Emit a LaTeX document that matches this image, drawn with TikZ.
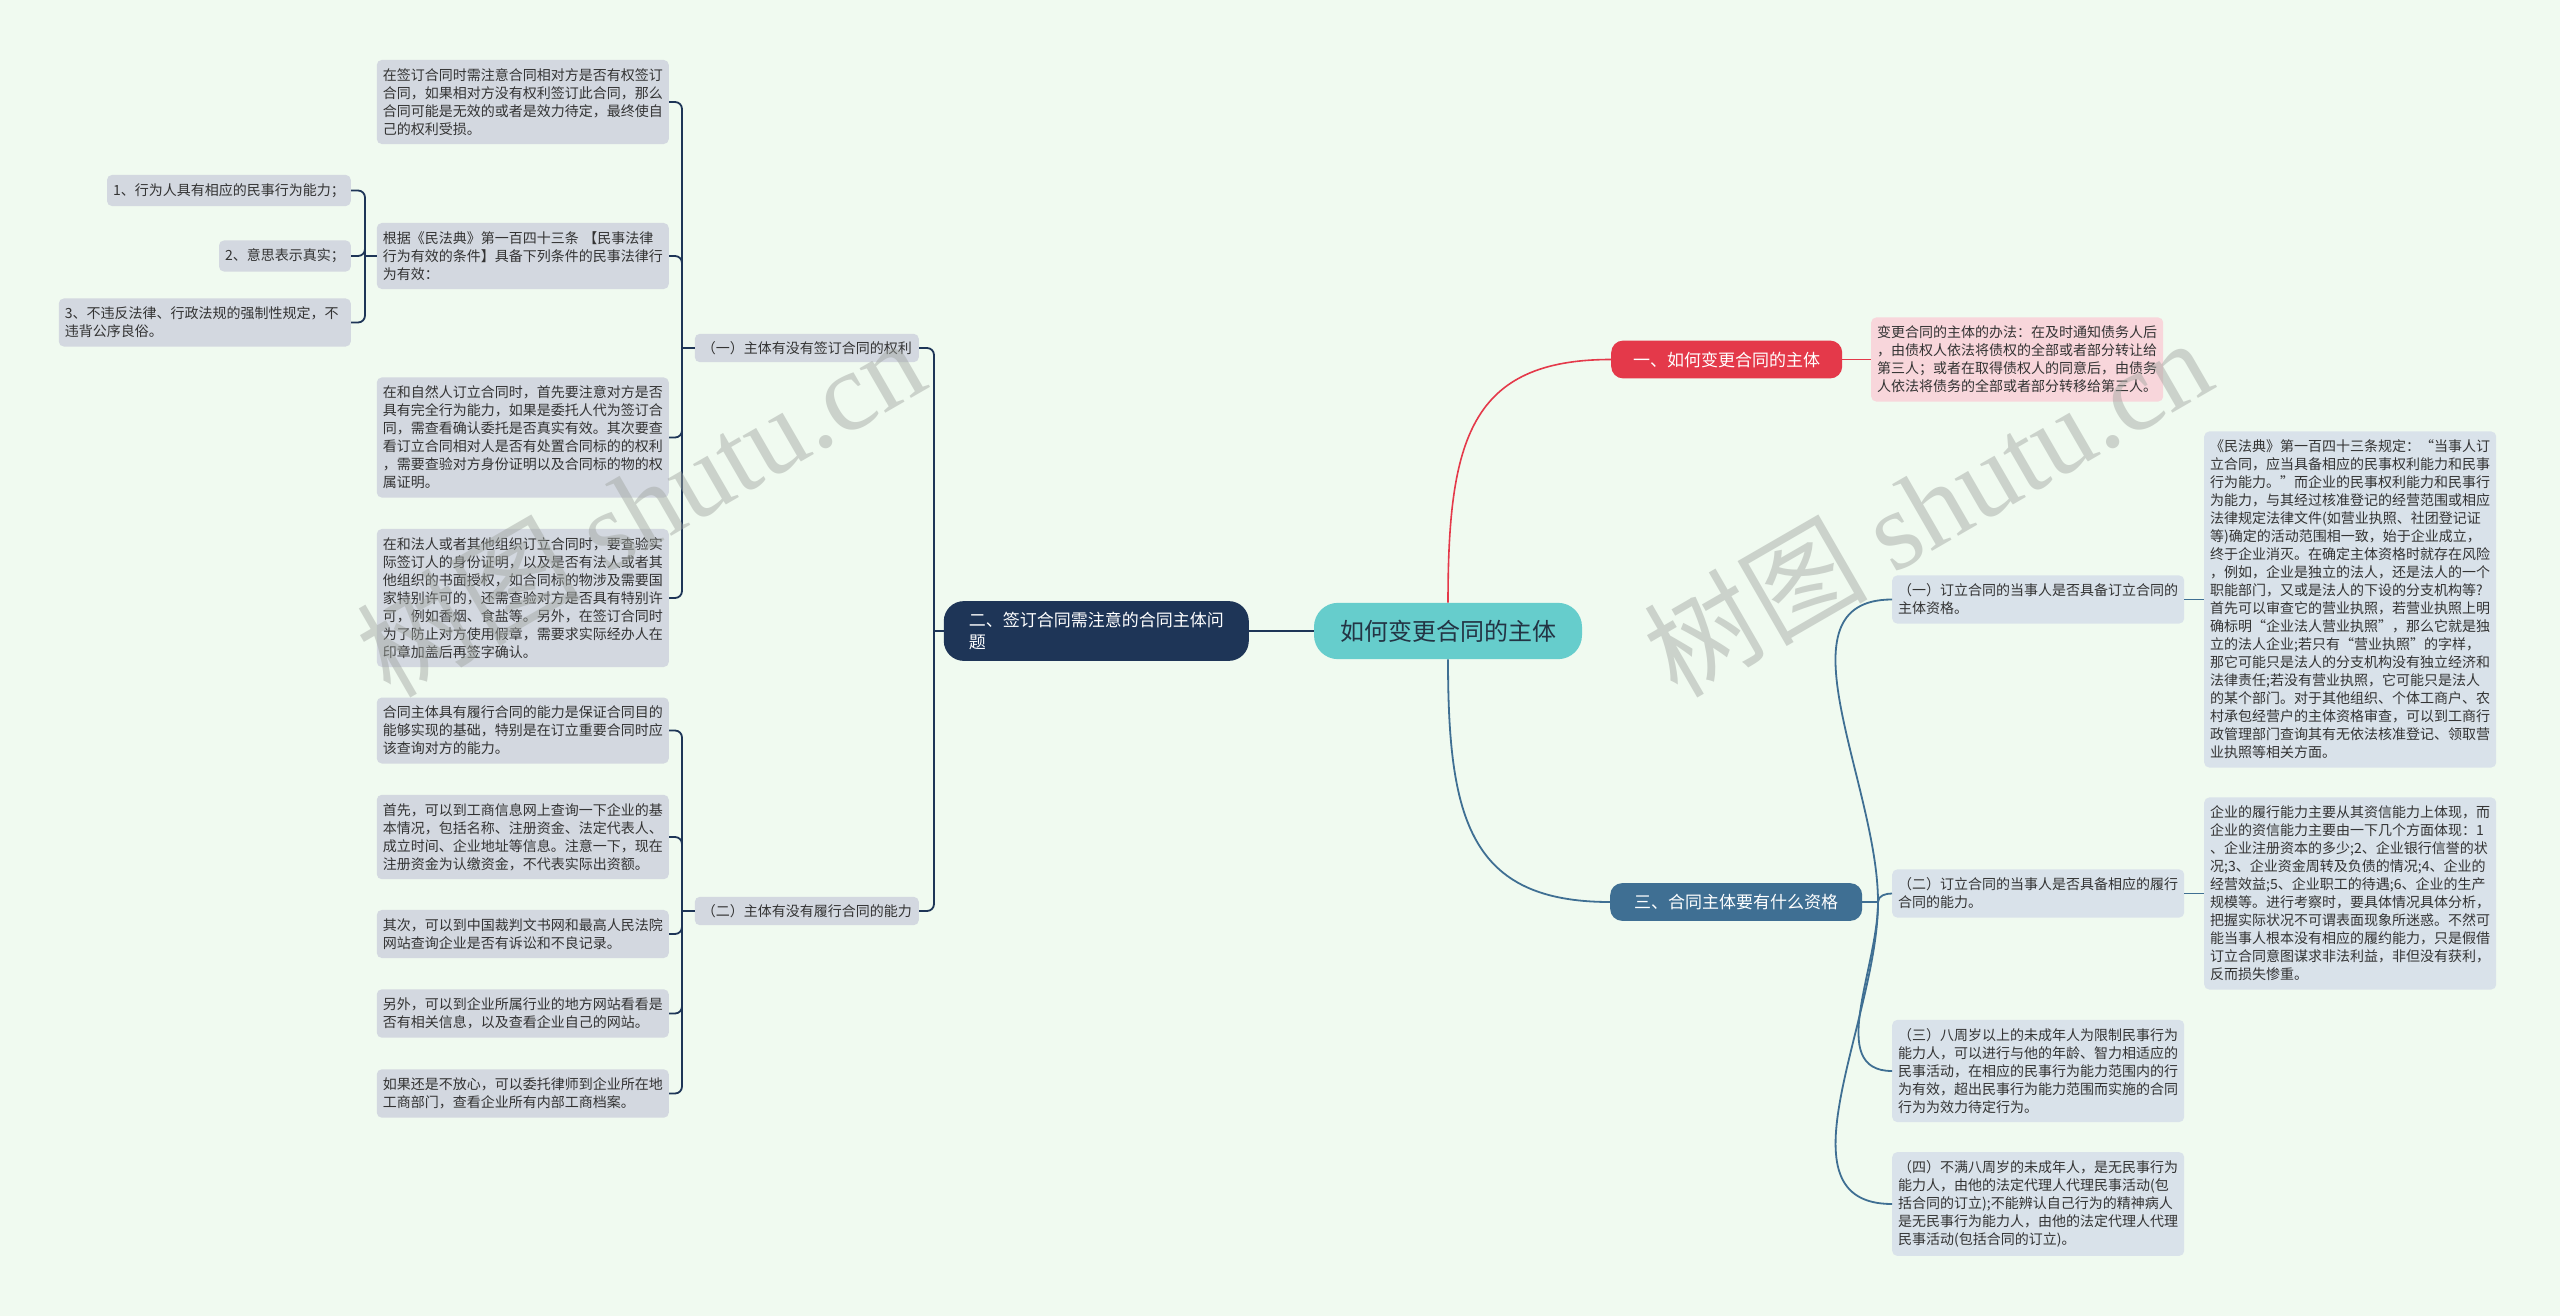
\documentclass[tikz,border=0pt]{standalone}
\usepackage{fontspec}
\setmainfont{Noto Sans CJK SC}
\newfontfamily\wmfont{Liberation Serif}
\definecolor{bg}{HTML}{F0FAF0}
\definecolor{navy}{HTML}{1E3557}
\definecolor{tealc}{HTML}{66CDCC}
\definecolor{crim}{HTML}{E4394A}
\definecolor{steel}{HTML}{3F6F93}
\definecolor{lgray}{HTML}{D3D8E0}
\definecolor{lblue}{HTML}{D9E2EA}
\definecolor{lpink}{HTML}{F8D6DB}
\definecolor{txt}{HTML}{333333}
\definecolor{ctxt}{HTML}{233444}
\definecolor{wm}{HTML}{9EA39E}
\tikzset{
  leaf/.style={rectangle, rounded corners=5pt, fill=lgray, text=txt, inner xsep=6pt, inner ysep=8.5pt, align=left, font=\fontsize{14}{18}\selectfont},
  wleaf/.style={leaf, text width=280pt},
  rleaf/.style={wleaf, fill=lblue},
  pleaf/.style={wleaf, fill=lpink},
  sub/.style={leaf, inner xsep=7pt, inner ysep=7.5pt},
  branch/.style={rectangle, rounded corners=12pt, text=white, inner ysep=11pt, font=\fontsize{17}{22}\selectfont},
  nline/.style={draw=navy, line width=1.8pt, rounded corners=7pt},
  bline/.style={draw=steel, line width=1.8pt},
  rline/.style={draw=crim, line width=1.6pt},
  wmark/.style={text=wm, opacity=0.45, rotate=30, font=\fontsize{112}{112}\selectfont}
}
\begin{document}
\begin{tikzpicture}[x=1pt,y=-1pt]
\fill[bg] (0,0) rectangle (2560,1316);
\useasboundingbox (0,0) rectangle (2560,1316);

% center and main branches
\node[rectangle, rounded corners=24pt, fill=tealc, text=ctxt, inner xsep=26pt, inner ysep=17pt, font=\fontsize{24}{28}\selectfont] (C) at (1448,631) {如何变更合同的主体};
\node[branch, fill=navy, anchor=east, align=left, text width=255pt, inner xsep=25pt, rounded corners=20pt] (M2) at (1249,631) {二、签订合同需注意的合同主体问\\题};
\node[branch, fill=crim, anchor=west, inner xsep=22pt] (M1) at (1611,359.5) {一、如何变更合同的主体};
\node[branch, fill=steel, anchor=west, inner xsep=24pt] (M3) at (1610,902) {三、合同主体要有什么资格};

% left sub-branches
\node[sub, anchor=east] (S1) at (919,348) {（一）主体有没有签订合同的权利};
\node[sub, anchor=east] (S2) at (919,911) {（二）主体有没有履行合同的能力};

% left leaves
\node[wleaf, anchor=east] (L1) at (669,102) {在签订合同时需注意合同相对方是否有权签订\\合同，如果相对方没有权利签订此合同，那么\\合同可能是无效的或者是效力待定，最终使自\\己的权利受损。};
\node[wleaf, anchor=east] (L2) at (669,256) {根据《民法典》第一百四十三条 【民事法律\\行为有效的条件】具备下列条件的民事法律行\\为有效：};
\node[wleaf, anchor=east] (L3) at (669,437.5) {在和自然人订立合同时，首先要注意对方是否\\具有完全行为能力，如果是委托人代为签订合\\同，需查看确认委托是否真实有效。其次要查\\看订立合同相对人是否有处置合同标的的权利\\，需要查验对方身份证明以及合同标的物的权\\属证明。};
\node[wleaf, anchor=east] (L4) at (669,598) {在和法人或者其他组织订立合同时，要查验实\\际签订人的身份证明，以及是否有法人或者其\\他组织的书面授权，如合同标的物涉及需要国\\家特别许可的，还需查验对方是否具有特别许\\可，例如香烟、食盐等。另外，在签订合同时\\为了防止对方使用假章，需要求实际经办人在\\印章加盖后再签字确认。};
\node[wleaf, anchor=east] (L5) at (669,730.5) {合同主体具有履行合同的能力是保证合同目的\\能够实现的基础，特别是在订立重要合同时应\\该查询对方的能力。};
\node[wleaf, anchor=east] (L6) at (669,837) {首先，可以到工商信息网上查询一下企业的基\\本情况，包括名称、注册资金、法定代表人、\\成立时间、企业地址等信息。注意一下，现在\\注册资金为认缴资金，不代表实际出资额。};
\node[wleaf, anchor=east] (L7) at (669,934) {其次，可以到中国裁判文书网和最高人民法院\\网站查询企业是否有诉讼和不良记录。};
\node[wleaf, anchor=east] (L8) at (669,1013.5) {另外，可以到企业所属行业的地方网站看看是\\否有相关信息，以及查看企业自己的网站。};
\node[wleaf, anchor=east] (L9) at (669,1093.5) {如果还是不放心，可以委托律师到企业所在地\\工商部门，查看企业所有内部工商档案。};

% far left
\node[leaf, anchor=east] (F1) at (351,190.5) {1、行为人具有相应的民事行为能力；};
\node[leaf, anchor=east] (F2) at (351,256) {2、意思表示真实；};
\node[wleaf, anchor=east] (F3) at (351,322.5) {3、不违反法律、行政法规的强制性规定，不\\违背公序良俗。};

% right
\node[pleaf, anchor=west] (P1) at (1871,359.5) {变更合同的主体的办法：在及时通知债务人后\\，由债权人依法将债权的全部或者部分转让给\\第三人；或者在取得债权人的同意后，由债务\\人依法将债务的全部或者部分转移给第三人。};
\node[rleaf, anchor=west] (R1) at (1892,599.5) {（一）订立合同的当事人是否具备订立合同的\\主体资格。};
\node[rleaf, anchor=west] (R2) at (1892,893.5) {（二）订立合同的当事人是否具备相应的履行\\合同的能力。};
\node[rleaf, anchor=west] (R3) at (1892,1071) {（三）八周岁以上的未成年人为限制民事行为\\能力人，可以进行与他的年龄、智力相适应的\\民事活动，在相应的民事行为能力范围内的行\\为有效，超出民事行为能力范围而实施的合同\\行为为效力待定行为。};
\node[rleaf, anchor=west] (R4) at (1892,1204) {（四）不满八周岁的未成年人，是无民事行为\\能力人，由他的法定代理人代理民事活动(包\\括合同的订立);不能辨认自己行为的精神病人\\是无民事行为能力人，由他的法定代理人代理\\民事活动(包括合同的订立)。};
\node[rleaf, anchor=west] (Q1) at (2204,599.5) {《民法典》第一百四十三条规定：“当事人订\\立合同，应当具备相应的民事权利能力和民事\\行为能力。”而企业的民事权利能力和民事行\\为能力，与其经过核准登记的经营范围或相应\\法律规定法律文件(如营业执照、社团登记证\\等)确定的活动范围相一致，始于企业成立，\\终于企业消灭。在确定主体资格时就存在风险\\，例如，企业是独立的法人，还是法人的一个\\职能部门，又或是法人的下设的分支机构等?\\首先可以审查它的营业执照，若营业执照上明\\确标明“企业法人营业执照”，那么它就是独\\立的法人企业;若只有“营业执照”的字样，\\那它可能只是法人的分支机构没有独立经济和\\法律责任;若没有营业执照，它可能只是法人\\的某个部门。对于其他组织、个体工商户、农\\村承包经营户的主体资格审查，可以到工商行\\政管理部门查询其有无依法核准登记、领取营\\业执照等相关方面。};
\node[rleaf, anchor=west] (Q2) at (2204,893.5) {企业的履行能力主要从其资信能力上体现，而\\企业的资信能力主要由一下几个方面体现：1\\、企业注册资本的多少;2、企业银行信誉的状\\况;3、企业资金周转及负债的情况;4、企业的\\经营效益;5、企业职工的待遇;6、企业的生产\\规模等。进行考察时，要具体情况具体分析，\\把握实际状况不可谓表面现象所迷惑。不然可\\能当事人根本没有相应的履约能力，只是假借\\订立合同意图谋求非法利益，非但没有获利，\\反而损失惨重。};

% connectors: left
\coordinate (jM) at (934,631);
\draw[nline] (M2.west) -- (jM);
\draw[nline] (S1.east) -| (jM);
\draw[nline] (S2.east) -| (jM);
\draw[nline] (C.west) -- (M2.east);
\coordinate (j1) at (682,348);
\draw[nline] (S1.west) -- (j1);
\foreach \n in {L1,L2,L3,L4} \draw[nline] (\n.east) -| (j1);
\coordinate (j2) at (682,911);
\draw[nline] (S2.west) -- (j2);
\foreach \n in {L5,L6,L7,L8,L9} \draw[nline] (\n.east) -| (j2);
\coordinate (j3) at (365,256);
\draw[nline] (L2.west) -- (j3);
\foreach \n in {F1,F2,F3} \draw[nline] (\n.east) -| (j3);

% connectors: right
\draw[rline] (C.north) .. controls (1448,440) and (1470,359.5) .. (M1.west);
\draw[rline] (M1.east) -- (P1.west);
\draw[bline] (C.south) .. controls (1448,820) and (1470,902) .. (M3.west);
\coordinate (j4) at (1878,902);
\draw[bline] (M3.east) -- (j4);
\draw[bline] (j4) to[out=90,in=180] (R1.west);
\draw[bline] (j4) to[out=90,in=180] (R2.west);
\draw[bline] (j4) to[out=-90,in=180] (R3.west);
\draw[bline] (j4) to[out=-90,in=180] (R4.west);
\draw[bline] (R1.east) -- (Q1.west);
\draw[bline] (R2.east) -- (Q2.west);

% watermarks
\node[wmark] (W1) at (640,506) {树图 {\wmfont shutu.cn}};
\node[wmark] (W2) at (1927,506) {树图 {\wmfont shutu.cn}};
\end{tikzpicture}
\end{document}
